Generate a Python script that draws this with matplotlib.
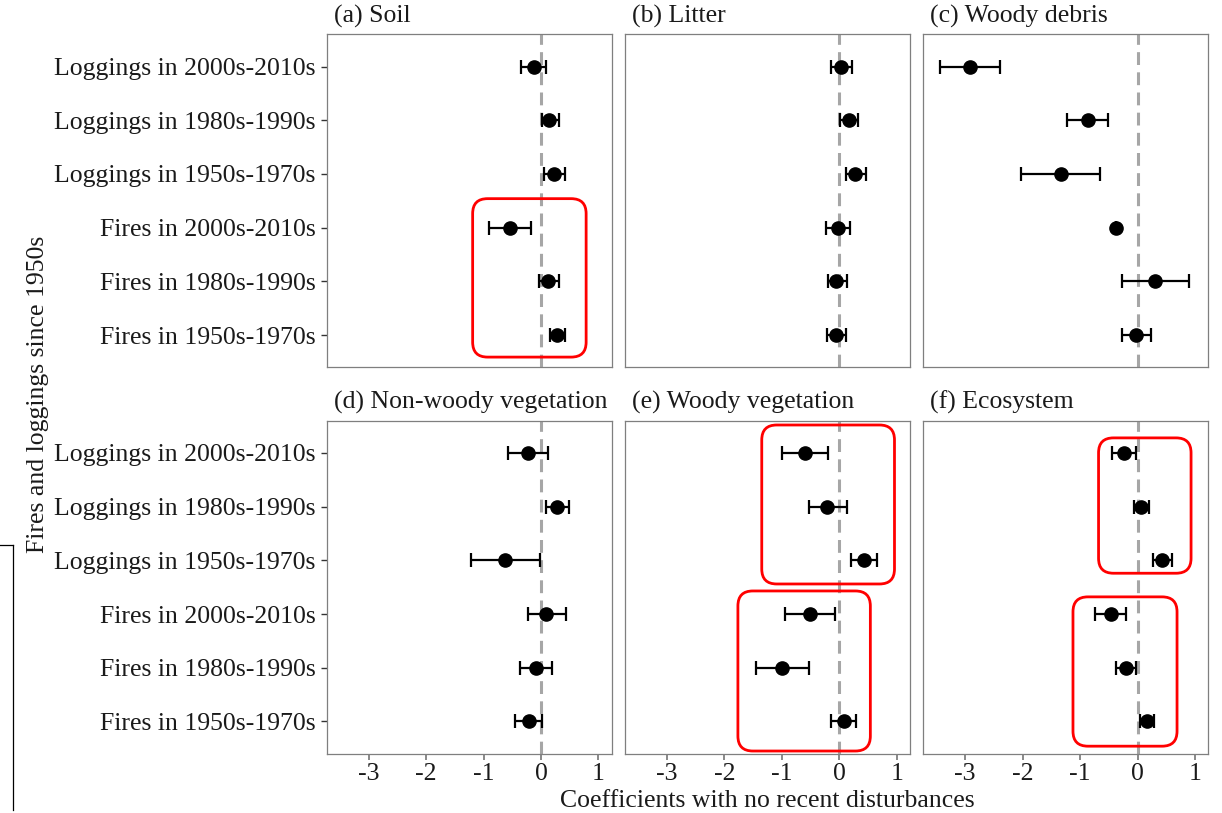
import numpy as np
import matplotlib
matplotlib.use("Agg")
import matplotlib.pyplot as plt
from matplotlib.patches import FancyBboxPatch
from matplotlib.lines import Line2D

plt.rcParams['font.family'] = ['Liberation Serif', 'DejaVu Serif']

# --- categories, top to bottom ---
categories = ["Loggings in 2000s-2010s", "Loggings in 1980s-1990s",
              "Loggings in 1950s-1970s", "Fires in 2000s-2010s",
              "Fires in 1980s-1990s", "Fires in 1950s-1970s"]

panel_titles = ["(a) Soil", "(b) Litter", "(c) Woody debris",
                "(d) Non-woody vegetation", "(e) Woody vegetation", "(f) Ecosystem"]

# --- coefficients and confidence limits ---
soil_est = [-0.13, 0.145, 0.23, -0.54, 0.12, 0.28]
soil_lo = [-0.35, 0.02, 0.05, -0.90, -0.04, 0.15]
soil_hi = [0.08, 0.31, 0.42, -0.17, 0.31, 0.42]

litter_est = [0.035, 0.16, 0.28, -0.03, -0.05, -0.05]
litter_lo = [-0.145, 0.02, 0.11, -0.23, -0.20, -0.21]
litter_hi = [0.22, 0.33, 0.46, 0.19, 0.13, 0.12]

debris_est = [-2.91, -0.87, -1.33, -0.38, 0.30, -0.02]
debris_lo = [-3.44, -1.23, -2.03, -0.38, -0.28, -0.27]
debris_hi = [-2.39, -0.51, -0.65, -0.38, 0.89, 0.24]

nonwoody_est = [-0.22, 0.28, -0.62, 0.09, -0.08, -0.21]
nonwoody_lo = [-0.58, 0.09, -1.21, -0.23, -0.36, -0.45]
nonwoody_hi = [0.13, 0.49, -0.01, 0.43, 0.185, 0.01]

woody_est = [-0.59, -0.21, 0.435, -0.51, -1.00, 0.075]
woody_lo = [-1.00, -0.53, 0.21, -0.95, -1.45, -0.145]
woody_hi = [-0.20, 0.13, 0.66, -0.07, -0.53, 0.29]

eco_est = [-0.24, 0.065, 0.425, -0.46, -0.21, 0.165]
eco_lo = [-0.44, -0.07, 0.27, -0.74, -0.37, 0.035]
eco_hi = [-0.03, 0.20, 0.60, -0.20, -0.02, 0.29]

x_ticks = [-3, -2, -1, 0, 1]

panels = [
    (soil_est, soil_lo, soil_hi),
    (litter_est, litter_lo, litter_hi),
    (debris_est, debris_lo, debris_hi),
    (nonwoody_est, nonwoody_lo, nonwoody_hi),
    (woody_est, woody_lo, woody_hi),
    (eco_est, eco_lo, eco_hi),
]

# red highlight boxes: panel index -> list of (x0, x1, y0, y1) in data units
highlight_boxes = {
    0: [(-1.19, 0.785, -0.41, 2.54)],
    4: [(-1.35, 0.96, 2.56, 5.52), (-1.765, 0.54, -0.55, 2.43)],
    5: [(-0.68, 0.93, 2.76, 5.28), (-1.125, 0.686, -0.46, 2.32)],
}

# --- layout in pixels ---
W, H = 1222, 813
col_left = [326.7, 625.0, 923.3]
row_top = [34.3, 420.7]
pw, ph = 285.0, 333.0
xlim = (-3.73, 1.23)
ylim = (-0.6, 5.6)
fs = 18.5

fig = plt.figure(figsize=(W / 100, H / 100), dpi=100)

ypos = np.arange(len(categories))[::-1]
text_col = "#1a1a1a"
frame_col = "#7f7f7f"

for i, (est, lo, hi) in enumerate(panels):
    r, c = divmod(i, 3)
    rect = [col_left[c] / W, 1 - (row_top[r] + ph) / H, pw / W, ph / H]
    ax = fig.add_axes(rect)

    ax.axvline(0, color="#a6a6a6", lw=2.2, ls=(0, (4.2, 2.4)), zorder=1)

    est = np.array(est)
    xerr = np.vstack([est - np.array(lo), np.array(hi) - est])
    ax.errorbar(est, ypos, xerr=xerr, fmt="none", ecolor="black",
                elinewidth=1.6, capsize=4.7, capthick=1.6, zorder=3)
    ax.plot(est, ypos, "o", color="black", ms=9.5, zorder=4)

    ax.set_xlim(xlim)
    ax.set_ylim(ylim)
    for s in ax.spines.values():
        s.set_color(frame_col)
        s.set_linewidth(0.9)

    ax.set_xticks(x_ticks)
    ax.set_yticks(ypos)
    if r == 1:
        ax.set_xticklabels([str(t) for t in x_ticks], fontsize=fs, color=text_col)
        ax.tick_params(axis="x", length=4, width=1.3, color=frame_col, pad=3)
    else:
        ax.tick_params(axis="x", length=0, labelbottom=False)
    if c == 0:
        ax.set_yticklabels(categories, fontsize=fs, color=text_col)
        ax.tick_params(axis="y", length=4, width=1.0, color="#333333", pad=4)
    else:
        ax.tick_params(axis="y", length=0, labelleft=False)

    ax.text(0.025, 1.02, panel_titles[i], transform=ax.transAxes,
            fontsize=fs, color=text_col, ha="left", va="bottom")

    for (x0, x1, y0, y1) in highlight_boxes.get(i, []):
        box = FancyBboxPatch((x0, y0), x1 - x0, y1 - y0,
                             boxstyle="round,pad=0,rounding_size=0.26",
                             mutation_aspect=1.07, fill=False,
                             edgecolor="#ff0000", lw=2.0, zorder=5, clip_on=False)
        ax.add_patch(box)

fig.text(767 / W, 1 - 801 / H, "Coefficients with no recent disturbances",
         fontsize=fs, color=text_col, ha="center", va="center")
fig.text(38 / W, 1 - 394 / H, "Fires and loggings since 1950s",
         fontsize=fs, color=text_col, ha="center", va="center", rotation=90)

# stray frame line at the lower left of the source image
fig.add_artist(Line2D([13.3 / W, 13.3 / W], [1 - 545 / H, 1 - 810 / H],
                      color="black", lw=0.9))
fig.add_artist(Line2D([0, 13.3 / W], [1 - 545 / H, 1 - 545 / H],
                      color="black", lw=0.9))

fig.savefig("out.png", dpi=100, facecolor="white")
